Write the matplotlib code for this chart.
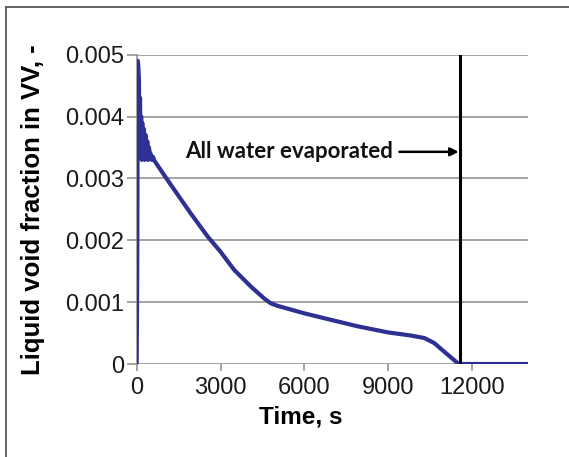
import matplotlib
matplotlib.use("Agg")
import matplotlib.pyplot as plt
from matplotlib.lines import Line2D

# time (s) and liquid void fraction
time_s = [0, 20, 40, 60, 80, 100, 120, 140, 160, 180, 200, 230, 260, 290,
          320, 350, 380, 410, 440, 470, 500, 540, 580, 630, 750, 1110,
          1940, 2540, 2990, 3490, 4090, 4560, 4800, 5040, 5990, 6710,
          7900, 9000, 9810, 10290, 10640, 11000, 11520, 12500, 14000]
void_frac = [0, 0.0015, 0.0049, 0.0048, 0.0046, 0.0036, 0.0043, 0.0034,
             0.0040, 0.0033, 0.0039, 0.0034, 0.0038, 0.0033, 0.0037,
             0.0034, 0.0036, 0.0033, 0.0035, 0.0034, 0.0034, 0.0033,
             0.00335, 0.00329, 0.00321, 0.00297, 0.00243, 0.00206,
             0.00182, 0.00152, 0.00125, 0.00106, 0.00098, 0.00094,
             0.00082, 0.00074, 0.00061, 0.00051, 0.00046, 0.00042,
             0.00034, 0.00020, 0.0, 0.0, 0.0]

evap_time = 11550
x_ticks = [0, 3000, 6000, 9000, 12000]
y_ticks = [0, 0.001, 0.002, 0.003, 0.004, 0.005]
y_tick_labels = ["0", "0.001", "0.002", "0.003", "0.004", "0.005"]

plt.rcParams["font.family"] = ["Liberation Sans", "DejaVu Sans"]

fig = plt.figure(figsize=(5.69, 4.57), dpi=100)
ax = fig.add_axes([0.2402, 0.2035, 0.928 - 0.2402, 0.8803 - 0.2035])

grid_col = "#8a8a8a"
for y in y_ticks:
    ax.axhline(y, color=grid_col, lw=1.1, zorder=1)

ax.plot(time_s, void_frac, color="#2e3192", lw=3.0, zorder=3,
        solid_joinstyle="round")
ax.axvline(evap_time, color="black", lw=2.2, zorder=4)

ax.annotate("", xy=(evap_time - 30, 0.00343), xytext=(9400, 0.00343),
            arrowprops=dict(arrowstyle="-|>", color="black", lw=1.8,
                            mutation_scale=12, shrinkA=0, shrinkB=0))
ax.text(1730, 0.00343, "All water evaporated", fontsize=16,
        fontweight="bold", family=["Lato", "DejaVu Sans"],
        ha="left", va="center", color="#111111")

ax.set_xlim(0, 14000)
ax.set_ylim(0, 0.005)
ax.set_xticks(x_ticks)
ax.set_xticklabels([str(t) for t in x_ticks])
ax.set_yticks(y_ticks)
ax.set_yticklabels(y_tick_labels)
ax.tick_params(axis="y", length=7, width=1.1, color=grid_col, labelsize=17,
               pad=2, labelcolor="#1a1a1a")
ax.tick_params(axis="x", length=5, width=1.1, color=grid_col, labelsize=17,
               pad=4, labelcolor="#1a1a1a")

for s in ["top", "right", "bottom"]:
    ax.spines[s].set_visible(False)
ax.spines["left"].set_color(grid_col)
ax.spines["left"].set_linewidth(1.1)

ax.set_xlabel("Time, s", fontsize=17.5, fontweight="bold")
ax.xaxis.set_label_coords((301 - 136.7) / (528 - 136.7), -0.135)
ax.set_ylabel("Liquid void fraction in VV, -", fontsize=18.5,
              fontweight="bold")
ax.yaxis.set_label_coords(-0.235, 0.5)

# outer frame (left and top edges visible)
fig.add_artist(Line2D([6 / 569, 6 / 569], [0, 1 - 7 / 457],
                      color="#555555", lw=1.3, transform=fig.transFigure))
fig.add_artist(Line2D([6 / 569, 1], [1 - 7 / 457, 1 - 7 / 457],
                      color="#555555", lw=1.3, transform=fig.transFigure))

fig.savefig("out.png", dpi=100)
